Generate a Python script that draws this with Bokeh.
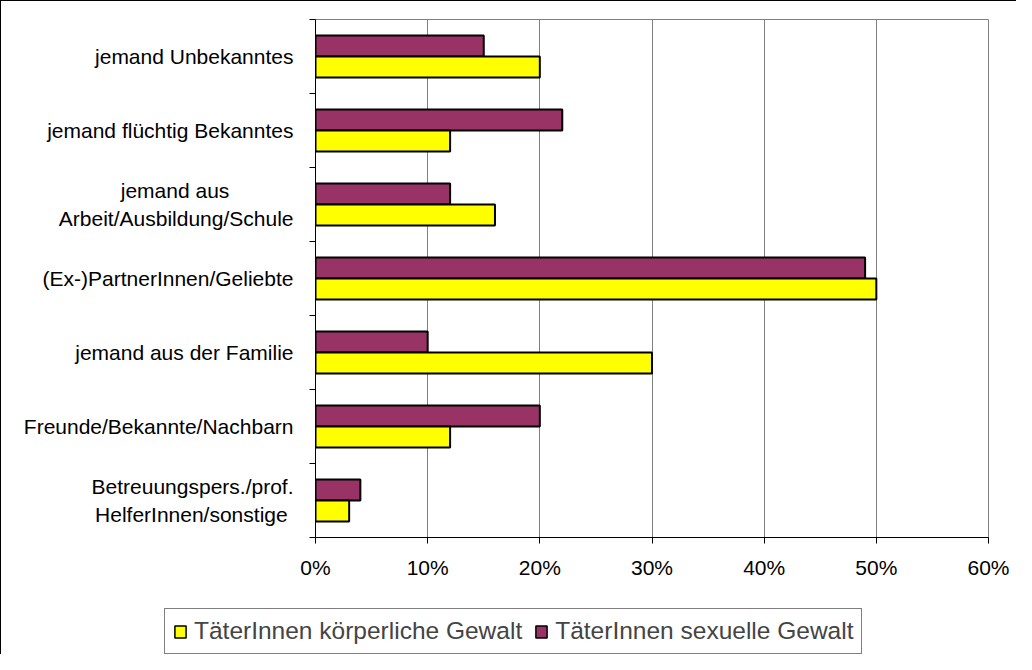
from bokeh.plotting import figure
from bokeh.layouts import column
from bokeh.models import (FixedTicker, Range1d, Legend, LegendItem,
                          PrintfTickFormatter, ColumnDataSource)
from bokeh.transform import dodge
from bokeh.embed import file_html
from bokeh.resources import INLINE

NB = "\u00a0"
categories = [
    "jemand Unbekanntes",
    "jemand flüchtig Bekanntes",
    "jemand aus" + NB * 11 + "\nArbeit/Ausbildung/Schule",
    "(Ex-)PartnerInnen/Geliebte",
    "jemand aus der Familie",
    "Freunde/Bekannte/Nachbarn",
    "Betreuungspers./prof.\nHelferInnen/sonstige" + NB,
]
koerperlich = [20, 12, 16, 50, 30, 12, 3]
sexuell = [15, 22, 12, 49, 10, 20, 4]
x_ticks = [0, 10, 20, 30, 40, 50, 60]
series_names = ["TäterInnen körperliche Gewalt", "TäterInnen sexuelle Gewalt"]
colors = ["#FFFF00", "#993366"]

n = len(categories)
centers = [n - i - 0.5 for i in range(n)]
bar_h = 0.284
off = bar_h / 2

FONT = "Liberation Sans"
W = 1015
H_MAIN = 591
H_LEG = 62

src = ColumnDataSource(dict(y=centers, k=koerperlich, s=sexuell))

p = figure(width=W, height=H_MAIN,
           x_range=Range1d(0, 60), y_range=Range1d(0, n),
           output_backend="svg", toolbar_location=None,
           min_border_left=314, min_border_right=28,
           min_border_top=18, min_border_bottom=55)
p.frame_align = False

p.hbar(y=dodge("y", off, range=p.y_range), left=0, right="s", height=bar_h,
       source=src, fill_color=colors[1], line_color="black", line_width=2)
p.hbar(y=dodge("y", -off, range=p.y_range), left=0, right="k", height=bar_h,
       source=src, fill_color=colors[0], line_color="black", line_width=2)

# x axis
p.xaxis.ticker = FixedTicker(ticks=x_ticks)
p.xaxis.formatter = PrintfTickFormatter(format="%d%%")
p.xaxis.major_tick_out = 6
p.xaxis.major_tick_in = 0
p.xaxis.minor_tick_out = 0
p.xaxis.minor_tick_in = 0
p.xaxis.major_label_standoff = 12

# y axis (labels at band centres, tick marks at band boundaries)
p.yaxis.ticker = FixedTicker(ticks=centers, minor_ticks=list(range(n + 1)))
p.yaxis.major_label_overrides = {c: lab for c, lab in zip(centers, categories)}
p.yaxis.major_tick_out = 0
p.yaxis.major_tick_in = 0
p.yaxis.minor_tick_out = 6
p.yaxis.minor_tick_in = 0
p.yaxis.major_label_standoff = 16

for ax in (p.xaxis, p.yaxis):
    ax.axis_line_color = "black"
    ax.major_tick_line_color = "black"
    ax.minor_tick_line_color = "black"
    ax.major_label_text_font = FONT
    ax.major_label_text_font_size = "21px"
    ax.major_label_text_color = "black"

p.xgrid.ticker = FixedTicker(ticks=x_ticks)
p.xgrid.grid_line_color = "#808080"
p.ygrid.visible = False
p.outline_line_color = "#808080"
p.background_fill_color = "white"
p.border_fill_color = "white"

# legend strip below the chart (its renderers share the data but lie outside its view)
pl = figure(width=W, height=H_LEG, x_range=Range1d(-2000, -1000),
            y_range=Range1d(1000, 2000),
            output_backend="svg", toolbar_location=None,
            x_axis_location=None, y_axis_location=None,
            min_border=0)
pl.frame_align = False
pl.grid.visible = False
pl.outline_line_color = None
pl.background_fill_color = "white"
pl.border_fill_color = "white"
lr_k = pl.hbar(y="y", left=0, right="k", height=bar_h, source=src,
               fill_color=colors[0], line_color="black", line_width=1.5)
lr_s = pl.hbar(y="y", left=0, right="s", height=bar_h, source=src,
               fill_color=colors[1], line_color="black", line_width=1.5)

legend = Legend(items=[LegendItem(label=series_names[0], renderers=[lr_k]),
                       LegendItem(label=series_names[1], renderers=[lr_s])],
                orientation="horizontal", location=(163, 0),
                label_text_font=FONT, label_text_font_size="24.5px",
                glyph_width=14, glyph_height=15, label_standoff=7,
                spacing=12, padding=8, margin=0,
                border_line_color="black", border_line_width=1,
                background_fill_color="white", background_fill_alpha=1)
pl.add_layout(legend, "center")

layout = column(p, pl, spacing=0)
layout.styles = {"border-left": "1px solid black", "border-top": "1px solid black"}

open("out.html", "w").write(file_html(layout, INLINE))
